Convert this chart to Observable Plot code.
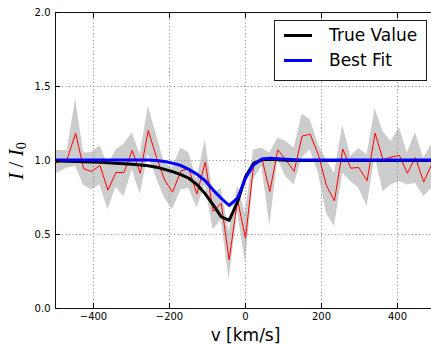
<!DOCTYPE html>
<html><head><meta charset="utf-8">
<script src="https://cdn.jsdelivr.net/npm/d3@7"></script>
<script src="https://cdn.jsdelivr.net/npm/@observablehq/plot@0.6"></script>
<style>
html,body{margin:0;padding:0;overflow:hidden;background:#fff;}
#wrap{position:relative;width:436px;height:347px;}
#legend{position:absolute;left:274px;top:20px;width:153px;height:61px;border:1px solid #222;background:#fff;font-family:"DejaVu Sans";font-size:17px;box-sizing:border-box;color:#000;}
.sw{position:absolute;left:9px;width:28px;height:3px;}
.lab{position:absolute;left:54px;line-height:20px;white-space:nowrap;}
</style></head>
<body><div id="wrap"></div>
<script>
// velocity grid (km/s)
const velocity = [-511,-490,-469,-447,-426,-405,-383,-362,-341,-320,-298,-277,-256,-234,-213,-192,-170,-149,-128,-106,-85,-64,-43,-21,0,21,43,64,85,106,128,149,170,192,213,234,256,277,298,320,341,362,383,405,426,447,469,490,511];
// noisy data (red)
const observed = [0.98,0.99,1.01,1.185,0.944,0.926,0.966,0.80,0.919,0.919,1.068,0.914,1.203,1.02,0.869,0.786,0.93,0.944,0.773,0.989,0.655,0.712,0.329,0.734,0.475,0.96,1.016,0.79,1.072,1.005,0.926,1.165,1.178,1.038,0.831,0.727,1.077,0.948,0.953,0.863,1.185,1.005,1.023,1.034,0.914,1.02,0.854,0.975,1.05];
// error band
const bandHigh = [1.07,1.07,1.068,1.417,1.05,1.054,1.10,0.97,1.07,1.11,1.185,1.04,1.365,1.17,0.98,0.95,1.085,1.05,0.87,1.14,0.773,0.81,0.52,0.83,0.64,1.072,1.083,1.05,1.15,1.13,1.083,1.313,1.275,1.106,1.005,0.914,1.236,1.027,1.083,1.038,1.35,1.196,1.128,1.223,1.05,1.19,1.016,1.11,1.15];
const bandLow = [0.90,0.92,0.95,0.96,0.835,0.80,0.835,0.667,0.82,0.757,0.937,0.77,1.04,0.88,0.745,0.667,0.80,0.81,0.68,0.835,0.53,0.60,0.194,0.655,0.306,0.87,0.96,0.554,1.005,0.89,0.835,1.016,1.072,0.914,0.644,0.554,0.914,0.858,0.813,0.69,1.027,0.79,0.835,0.858,0.835,0.847,0.757,0.813,0.9];
// true profile (black)
const trueValue = [0.997,0.996,0.995,0.994,0.992,0.99,0.988,0.985,0.982,0.978,0.974,0.97,0.965,0.955,0.94,0.925,0.905,0.88,0.838,0.775,0.70,0.62,0.595,0.72,0.89,0.98,1.005,1.008,1.005,1.002,1.0,1.0,1.0,1.0,1.0,1.0,1.0,1.0,1.0,1.0,1.0,1.0,1.0,1.0,1.0,1.0,1.0,1.0,1.0];
// best fit (blue)
const bestFit = [1.003,1.003,1.003,1.003,1.003,1.003,1.003,1.003,1.003,1.003,1.003,1.003,1.003,1.0,0.993,0.982,0.966,0.94,0.908,0.863,0.80,0.745,0.696,0.745,0.88,0.97,1.01,1.015,1.012,1.008,1.005,1.003,1.003,1.003,1.003,1.003,1.003,1.003,1.003,1.003,1.003,1.003,1.003,1.003,1.003,1.003,1.003,1.003,1.003];
const xTicks = [-400,-200,0,200,400];
const yTicks = [0,0.5,1.0,1.5,2.0];
const legendLabels = ["True Value","Best Fit"];
const xLabel = "v [km/s]";

const rows = velocity.map((v,i)=>({v, obs: observed[i], lo: bandLow[i], hi: bandHigh[i], tru: trueValue[i], fit: bestFit[i]}));

const chart = Plot.plot({
  width: 436, height: 347,
  marginLeft: 55, marginRight: 1, marginTop: 12, marginBottom: 39,
  style: {fontFamily: "DejaVu Sans", fontSize: "10px", color: "#000", background: "#fff", maxWidth: "none"},
  x: {domain: [-500, 500], label: null},
  y: {domain: [0, 2], label: null},
  marks: [
    Plot.areaY(rows, {x: "v", y1: "lo", y2: "hi", fill: "#cccccc", clip: true}),
    Plot.gridX(xTicks, {stroke: "#8a8a8a", strokeOpacity: 1, strokeDasharray: "1,2.5"}),
    Plot.gridY([0.5,1.0,1.5], {stroke: "#8a8a8a", strokeOpacity: 1, strokeDasharray: "1,2.5"}),
    Plot.lineY(rows, {x: "v", y: "obs", stroke: "#ff0000", strokeWidth: 1, clip: true}),
    Plot.lineY(rows, {x: "v", y: "tru", stroke: "#000", strokeWidth: 3, clip: true}),
    Plot.lineY(rows, {x: "v", y: "fit", stroke: "#0000ff", strokeWidth: 3, clip: true}),
    Plot.frame({stroke: "#111"}),
    Plot.axisX({ticks: xTicks, anchor: "bottom", tickSize: -5, tickPadding: 9, tickFormat: d3.format("d"), label: null}),
    Plot.axisX({ticks: xTicks, anchor: "top", tickSize: -5, tickFormat: () => "", label: null}),
    Plot.axisY({ticks: yTicks, anchor: "left", tickSize: -5, tickPadding: 10, tickFormat: d3.format(".1f"), label: null}),
    Plot.text([xLabel], {frameAnchor: "bottom", dy: 27, fontSize: 17, lineAnchor: "middle"})
  ]
});
const wrap = document.getElementById("wrap");
wrap.appendChild(chart);

// y-axis label
const svg = d3.select(chart);
const yl = svg.append("text")
  .attr("transform", "translate(18,161) rotate(-90)")
  .attr("text-anchor", "middle")
  .attr("dominant-baseline", "middle")
  .style("font-family", "'Liberation Serif'")
  .style("font-size", "21px")
  .attr("fill", "#000");
yl.append("tspan").style("font-style", "italic").text("I");
yl.append("tspan").text(" / ");
yl.append("tspan").style("font-style", "italic").text("I");
yl.append("tspan").attr("dy", 5).style("font-size", "14px").text("0");

// legend
const legend = document.createElement("div");
legend.id = "legend";
const colors = ["#000", "#0000ff"];
legendLabels.forEach((t, i) => {
  const top = 13 + i * 25;
  const sw = document.createElement("div");
  sw.className = "sw"; sw.style.top = (top) + "px"; sw.style.background = colors[i];
  const lb = document.createElement("div");
  lb.className = "lab"; lb.style.top = (top - 9) + "px"; lb.textContent = t;
  legend.appendChild(sw); legend.appendChild(lb);
});
wrap.appendChild(legend);
</script>
</body></html>
